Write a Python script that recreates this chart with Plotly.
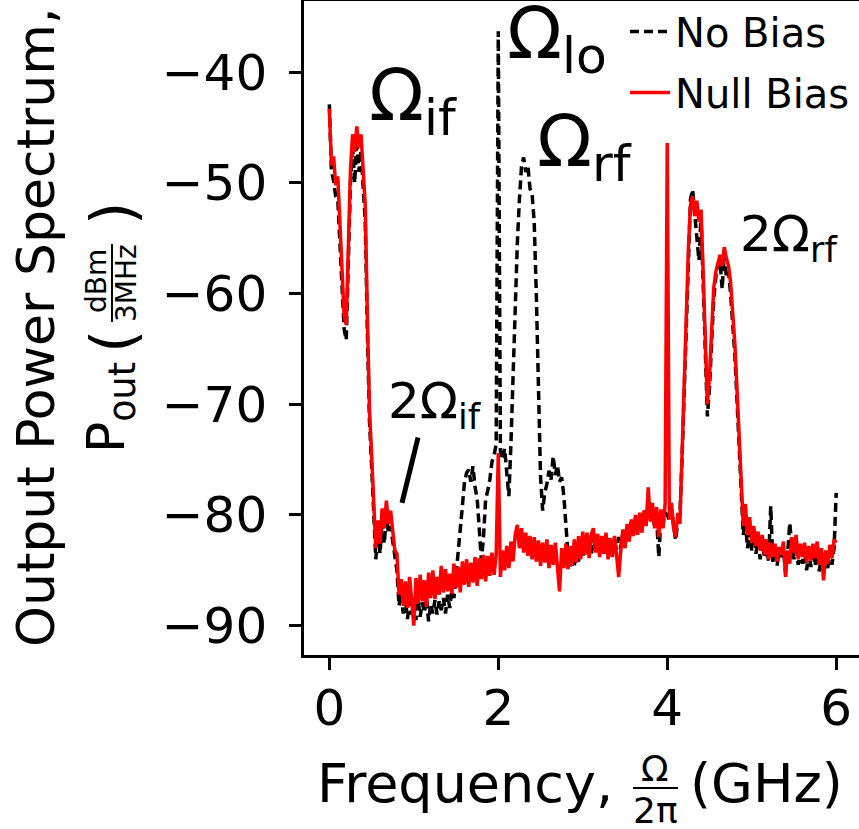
import numpy as np
import plotly.graph_objects as go

# ---------------- data ----------------
freq_ghz = np.round(np.arange(241) * 0.025, 3)   # 0 .. 6 GHz sample grid

no_bias = [
    -42.9, -48.9, -49.8, -51.2, -51.5, -55.0, -59.0, -63.2, -64.2, -56.5,
    -50.0, -46.5, -50.0, -46.0, -49.0, -47.0, -50.0, -53.5, -63.5, -71.5,
    -75.5, -79.5, -84.0, -81.5, -83.5, -80.5, -82.6, -80.2, -81.6, -81.0,
    -82.4, -84.0, -85.0, -88.2, -87.0, -88.9, -87.5, -89.4, -87.8, -89.0,
    -88.0, -89.5, -87.6, -89.2, -87.9, -88.8, -87.5, -89.6, -88.0, -88.9,
    -87.7, -89.0, -87.8, -88.6, -87.5, -88.9, -87.2, -88.4, -86.8, -87.5,
    -85.5, -84.0, -81.7, -79.2, -77.0, -76.2, -75.9, -77.0, -75.6, -77.5,
    -78.5, -81.5, -84.1, -82.0, -78.6, -77.8, -76.8, -75.2, -74.6, -73.6,
    -36.3, -74.2, -75.0, -74.0, -76.5, -78.3, -73.5, -67.0, -60.5, -55.5,
    -51.5, -48.5, -47.7, -49.0, -48.4, -50.5, -51.0, -53.5, -60.0, -69.5,
    -76.5, -79.6, -78.0, -77.2, -76.0, -76.8, -74.7, -76.4, -75.5, -77.0,
    -76.6, -78.2, -80.5, -83.5, -84.8, -83.4, -84.6, -82.8, -84.2, -82.5,
    -83.8, -82.4, -83.2, -82.0, -83.6, -82.2, -82.9, -81.8, -83.5, -82.0,
    -83.4, -82.3, -83.2, -81.9, -83.6, -82.5, -83.1, -82.0, -83.0, -81.6,
    -82.2, -81.0, -81.9, -80.6, -81.4, -80.2, -81.2, -80.0, -81.0, -79.5,
    -80.4, -79.2, -80.0, -79.6, -81.0, -80.4, -83.8, -80.2, -80.8, -79.8,
    -80.0, -80.5, -79.5, -81.0, -82.3, -80.5, -80.0, -75.0, -69.0, -63.0,
    -56.5, -51.5, -50.6, -52.5, -55.0, -57.0, -53.0, -59.0, -65.5, -71.1,
    -68.5, -63.5, -60.5, -58.5, -57.8, -57.0, -59.6, -56.5, -58.5, -58.0,
    -60.0, -62.5, -65.5, -69.5, -74.0, -78.5, -81.8, -80.5, -83.0, -81.5,
    -83.2, -81.8, -83.5, -82.3, -84.0, -82.4, -83.9, -82.9, -84.2, -79.2,
    -84.3, -83.0, -84.6, -83.2, -84.0, -83.0, -85.2, -83.6, -80.7, -82.8,
    -84.0, -82.5, -84.5, -83.2, -84.4, -82.9, -85.0, -83.4, -84.7, -83.1,
    -84.6, -82.8, -85.1, -83.5, -85.4, -83.8, -84.8, -83.3, -84.5, -83.0,
    -78.0,
]

null_bias = [
    -43.3, -48.4, -47.6, -50.2, -49.4, -53.8, -57.5, -62.0, -62.8, -55.0,
    -48.8, -45.6, -47.2, -44.9, -46.8, -45.6, -48.5, -52.0, -62.0, -70.5,
    -74.5, -78.5, -83.0, -80.5, -82.6, -79.4, -81.2, -78.7, -80.8, -79.6,
    -81.4, -83.2, -83.5, -87.2, -85.8, -88.2, -86.0, -88.4, -85.6, -87.9,
    -90.0, -85.7, -88.0, -85.4, -87.8, -85.9, -88.3, -85.2, -87.5, -85.0,
    -87.6, -85.6, -87.2, -84.6, -87.0, -84.9, -86.9, -85.3, -87.1, -84.4,
    -86.6, -84.7, -87.0, -84.2, -86.3, -84.0, -86.5, -84.3, -86.1, -83.8,
    -86.4, -83.9, -85.8, -83.6, -86.0, -83.7, -85.5, -83.4, -85.4, -83.6,
    -74.4, -85.6, -83.2, -85.0, -82.8, -84.8, -82.4, -84.2, -81.8, -80.9,
    -83.0, -81.2, -83.4, -81.6, -83.7, -81.9, -84.0, -82.0, -84.2, -82.3,
    -84.6, -82.5, -84.3, -82.2, -84.8, -82.7, -84.5, -82.5, -84.9, -86.9,
    -83.0, -84.8, -82.6, -84.9, -82.8, -84.6, -82.2, -84.3, -81.9, -84.0,
    -81.5, -83.6, -81.6, -83.9, -81.8, -81.2, -83.4, -81.7, -83.8, -81.9,
    -83.5, -81.6, -84.0, -82.1, -83.8, -81.9, -83.6, -85.6, -83.2, -81.3,
    -83.0, -80.8, -82.4, -80.4, -81.9, -80.0, -81.8, -79.8, -81.6, -79.6,
    -81.0, -77.5, -80.6, -78.9, -81.2, -79.3, -82.0, -79.5, -81.2, -79.0,
    -46.4, -80.4, -78.9, -81.2, -82.0, -79.8, -80.8, -74.0, -68.0, -62.0,
    -56.0, -52.0, -51.2, -53.0, -51.6, -53.5, -52.4, -58.0, -64.5, -70.0,
    -67.5, -62.5, -59.5, -58.0, -57.2, -56.5, -57.5, -55.8, -56.8, -57.5,
    -59.0, -61.5, -64.5, -68.5, -73.0, -77.5, -81.0, -79.0, -81.8, -80.2,
    -82.5, -81.0, -82.8, -81.5, -83.2, -81.8, -83.6, -82.2, -84.0, -82.5,
    -83.8, -82.6, -84.2, -82.9, -83.6, -82.4, -85.6, -83.2, -84.4, -82.0,
    -83.4, -81.8, -84.0, -82.6, -83.8, -82.5, -84.3, -82.8, -84.1, -82.6,
    -83.9, -82.4, -84.5, -83.0, -85.9, -83.2, -84.4, -82.7, -83.9, -82.2,
    -82.5,
]

x_ticks = [0, 2, 4, 6]
y_ticks = [-90, -80, -70, -60, -50, -40]
series_names = ["No Bias", "Null Bias"]

# ---------------- figure ----------------
FONT = "DejaVu Sans"
W, H = 859, 829
L, R, T, B = 304, 0, 1, 174
PW, PH = W - L - R, H - T - B

def px(xp):
    return (xp - L) / PW

def py(yp):
    return (T + PH - yp) / PH

fig = go.Figure()
fig.add_trace(go.Scatter(
    x=freq_ghz, y=no_bias, mode="lines", name=series_names[0],
    legendgroup="a",
    line=dict(color="black", width=3.5, dash="9px,5px"),
))
fig.add_trace(go.Scatter(
    x=freq_ghz, y=null_bias, mode="lines", name=series_names[1],
    legendgroup="b",
    line=dict(color="#ff0000", width=3.5),
))

axis_common = dict(
    showgrid=False, zeroline=False, showline=True, linecolor="black",
    linewidth=2.5, ticks="outside", ticklen=12, tickwidth=2.5,
    tickcolor="black", tickfont=dict(family=FONT, size=50, color="black"),
)
fig.update_xaxes(range=[-0.3, 6.27], tickvals=x_ticks, mirror=True,
                 ticklabelstandoff=-5, **axis_common)
fig.update_yaxes(range=[-92.65, -33.56], tickvals=y_ticks, mirror=False,
                 ticklabelstandoff=12, **axis_common)

ann = []
def text(xp, yp, s, size, angle=0, xanchor="center", yanchor="middle"):
    ann.append(dict(x=px(xp), y=py(yp), xref="paper", yref="paper",
                    text=s, showarrow=False, textangle=angle,
                    xanchor=xanchor, yanchor=yanchor,
                    font=dict(family=FONT, size=size, color="black")))

# x-axis title: Frequency, Ω/2π (GHz)
text(315, 783, "Frequency,", 54, xanchor="left")
text(655, 768, "Ω", 36)
text(655, 810, "2π", 36)
text(688, 783, "(GHz)", 54, xanchor="left")

# y-axis title (two rotated lines)
text(36, 328, "Output Power Spectrum,", 52, angle=-90)
text(110, 408, "P<sub>out</sub>", 52, angle=-90)
text(113, 342, "(", 60, angle=-90)
text(97, 281, "dBm", 28, angle=-90)
text(126, 283, "3MHz", 28, angle=-90)
text(113, 214, ")", 60, angle=-90)

# peak labels
text(367, 100, "Ω<sub>if</sub>", 72, xanchor="left")
text(505, 38, "Ω<sub>lo</sub>", 72, xanchor="left")
text(535, 146, "Ω<sub>rf</sub>", 72, xanchor="left")
text(738, 237, "2Ω<sub>rf</sub>", 50, xanchor="left")
text(386, 404, "2Ω<sub>if</sub>", 50, xanchor="left")

shapes = [
    # fraction bars
    dict(type="line", xref="paper", yref="paper",
         x0=px(633), x1=px(678), y0=py(788), y1=py(788),
         line=dict(color="black", width=2)),
    dict(type="line", xref="paper", yref="paper",
         x0=px(112), x1=px(112), y0=py(244), y1=py(322),
         line=dict(color="black", width=2)),
    # pointer for 2Ω_if
    dict(type="line", xref="x", yref="y",
         x0=1.05, y0=-73.0, x1=0.86, y1=-78.9,
         line=dict(color="black", width=5)),
]

fig.update_layout(
    width=W, height=H,
    margin=dict(l=L, r=R, t=T, b=B, pad=0, autoexpand=False),
    plot_bgcolor="white", paper_bgcolor="white",
    font=dict(family=FONT, color="black"),
    showlegend=True,
    legend=dict(x=px(625), y=py(-1), xanchor="left", yanchor="top",
                bgcolor="rgba(0,0,0,0)", borderwidth=0,
                font=dict(family=FONT, size=40, color="black"),
                tracegroupgap=6, itemwidth=40),
    annotations=ann,
    shapes=shapes,
)

fig.write_html(
    "out.html",
    config={"displayModeBar": False},
    post_script="document.body.style.margin='0px';"
                "document.body.style.padding='0px';",
)
